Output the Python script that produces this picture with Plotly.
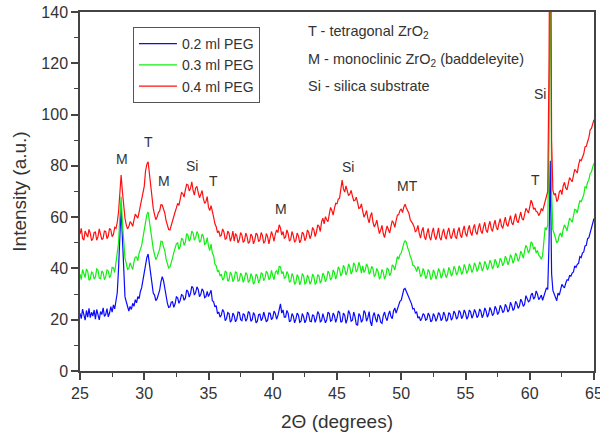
import numpy as np
import plotly.graph_objects as go

# scan angles (2-theta, degrees), 0.1 degree steps from 25 to 65
two_theta = np.round(np.arange(25.0, 65.0001, 0.1), 1)

peg_02 = [
    22.5, 20.4, 24.1, 21.2, 19.8, 23.6, 21.0, 24.4, 20.8, 22.9,
    21.4, 23.8, 20.2, 24.0, 21.8, 19.9, 23.2, 22.0, 24.6, 21.3,
    22.0, 24.3, 21.1, 22.6, 25.1, 23.0, 25.8, 24.2, 27.4, 30.5,
    40.0, 55.0, 64.0, 52.0, 36.0, 29.0, 27.0, 24.6, 23.4, 25.2,
    24.0, 26.4, 25.2, 27.8, 26.6, 29.0, 28.2, 31.0, 32.5, 35.4,
    38.5, 41.6, 44.2, 45.6, 42.0, 37.5, 33.0, 30.4, 29.6, 27.4,
    28.2, 30.0, 31.5, 34.8, 36.8, 35.2, 32.0, 28.6, 26.5, 24.8,
    25.0, 26.8, 27.0, 24.8, 26.2, 28.9, 28.5, 26.4, 27.6, 29.8,
    29.5, 27.6, 28.4, 31.6, 31.0, 28.8, 30.2, 33.0, 32.4, 29.6,
    30.6, 32.8, 31.8, 29.0, 29.9, 32.0, 31.2, 28.6, 29.0, 31.0,
    29.0, 30.2, 31.5, 27.4, 27.0, 25.0, 25.5, 22.4, 23.0, 21.0,
    21.8, 24.0, 23.0, 19.6, 20.5, 22.8, 22.4, 19.0, 19.8, 22.6,
    21.6, 19.2, 20.2, 23.0, 22.8, 20.0, 19.6, 22.4, 21.9, 19.4,
    20.4, 23.2, 22.6, 19.4, 20.0, 22.8, 21.8, 18.8, 19.4, 22.0,
    22.2, 19.6, 20.6, 23.0, 21.4, 19.2, 19.8, 22.6, 22.5, 20.0,
    20.8, 23.4, 22.4, 20.2, 21.6, 23.8, 26.2, 22.6, 23.8, 21.0,
    21.0, 23.6, 22.5, 19.2, 19.6, 22.4, 21.4, 18.8, 20.2, 22.6,
    21.8, 19.0, 19.4, 22.4, 21.2, 18.8, 20.0, 23.0, 22.0, 19.4,
    19.2, 22.0, 21.5, 19.0, 20.4, 23.2, 22.2, 19.2, 19.6, 22.4,
    21.0, 18.8, 20.0, 23.0, 22.4, 19.4, 19.8, 22.6, 21.6, 19.0,
    20.6, 23.4, 22.8, 19.0, 19.4, 22.6, 21.8, 18.6, 20.2, 23.6,
    22.4, 19.4, 19.8, 23.0, 21.2, 18.2, 17.8, 22.4, 21.6, 19.0,
    20.0, 23.6, 22.6, 19.4, 20.8, 23.2, 19.2, 17.6, 21.4, 22.8,
    20.4, 19.0, 22.2, 21.4, 19.0, 18.6, 21.6, 23.0, 20.8, 19.6,
    22.0, 23.4, 21.2, 20.4, 23.4, 24.6, 22.6, 24.2, 25.0, 27.2,
    27.6, 30.4, 31.8, 32.2, 31.0, 29.6, 28.4, 27.0, 26.2, 24.2,
    24.4, 22.6, 23.0, 20.6, 21.2, 19.6, 20.6, 22.4, 21.8, 19.8,
    20.2, 22.6, 21.6, 19.2, 19.8, 22.4, 21.4, 19.4, 20.6, 22.8,
    22.0, 19.6, 20.4, 23.0, 21.8, 19.4, 20.0, 22.8, 22.2, 19.8,
    20.8, 23.4, 22.4, 20.2, 21.0, 23.6, 22.8, 20.4, 21.4, 23.8,
    22.6, 20.2, 21.2, 23.8, 23.0, 20.6, 21.8, 24.0, 22.8, 20.8,
    21.6, 24.2, 23.2, 20.8, 22.0, 24.6, 23.4, 21.0, 22.2, 24.8,
    23.6, 21.6, 22.4, 25.2, 24.2, 22.0, 23.0, 25.6, 24.6, 22.8,
    23.4, 26.0, 25.0, 23.0, 24.0, 26.8, 25.6, 23.6, 24.4, 27.2,
    26.2, 24.4, 25.4, 28.0, 27.0, 25.2, 26.0, 29.4, 28.2, 27.0,
    27.4, 29.6, 30.4, 28.0, 28.8, 31.2, 30.0, 27.8, 28.6, 29.6,
    27.6, 29.0, 30.6, 32.4, 31.8, 50.0, 82.0, 38.0, 31.4, 30.0,
    28.0, 27.4, 30.4, 29.6, 31.6, 33.8, 33.0, 32.4, 34.2, 35.6,
    35.4, 37.2, 37.0, 38.2, 38.6, 41.0, 40.4, 41.6, 42.0, 44.6,
    44.2, 46.0, 46.4, 48.8, 49.0, 51.6, 52.0, 54.2, 55.4, 57.8,
    59.5,
]

peg_03 = [
    37.8, 35.6, 39.6, 38.0, 36.4, 39.8, 38.8, 35.4, 35.9, 38.6,
    38.2, 35.8, 36.6, 39.8, 39.4, 36.2, 36.0, 39.0, 38.4, 35.6,
    36.8, 39.4, 39.0, 36.4, 37.4, 40.4, 40.2, 38.4, 42.5, 45.0,
    50.0, 60.0, 68.0, 58.0, 49.0, 44.0, 42.0, 39.6, 40.0, 42.2,
    40.8, 39.6, 42.6, 44.4, 44.4, 43.0, 46.0, 47.6, 49.0, 52.0,
    55.0, 58.6, 61.0, 62.0, 58.0, 54.0, 49.5, 47.6, 45.5, 43.4,
    44.5, 46.4, 47.5, 50.6, 50.5, 48.4, 47.0, 43.6, 42.0, 40.2,
    40.6, 43.0, 44.0, 46.2, 47.6, 49.6, 50.0, 47.4, 48.6, 51.6,
    51.4, 49.0, 50.2, 53.6, 53.0, 50.6, 51.6, 54.6, 53.8, 51.0,
    52.0, 54.4, 53.4, 50.2, 50.8, 53.4, 52.6, 49.4, 49.8, 52.0,
    48.6, 47.0, 49.5, 46.0, 45.0, 41.6, 41.0, 38.8, 39.2, 37.0,
    37.8, 35.4, 36.2, 39.0, 38.4, 35.0, 35.6, 38.6, 37.6, 34.8,
    36.0, 38.8, 38.2, 35.0, 35.4, 38.2, 37.2, 34.6, 35.8, 38.4,
    37.6, 34.6, 35.2, 38.0, 36.8, 33.8, 34.8, 37.8, 37.0, 34.4,
    35.6, 38.4, 37.8, 35.2, 36.2, 39.0, 38.0, 35.6, 36.4, 39.2,
    37.2, 35.6, 38.4, 39.2, 37.6, 40.8, 40.6, 38.0, 38.8, 36.2,
    36.4, 38.8, 37.8, 34.6, 35.2, 38.0, 36.8, 33.8, 34.6, 37.6,
    36.6, 33.6, 35.0, 38.0, 37.2, 34.0, 34.4, 37.4, 36.2, 33.8,
    35.0, 37.8, 36.8, 33.8, 34.6, 37.6, 37.0, 34.2, 35.4, 38.2,
    37.2, 34.8, 36.0, 39.0, 38.0, 35.4, 36.4, 39.4, 38.4, 35.8,
    37.6, 40.6, 39.6, 37.0, 38.2, 41.2, 40.0, 37.4, 38.8, 41.8,
    40.4, 37.8, 39.0, 42.2, 41.2, 38.6, 39.6, 42.4, 40.8, 38.2,
    41.0, 38.4, 39.4, 41.8, 40.6, 37.8, 38.6, 40.8, 39.8, 36.8,
    37.6, 40.0, 38.8, 35.8, 36.8, 39.6, 38.4, 35.8, 37.2, 40.0,
    39.6, 37.2, 38.2, 41.4, 40.8, 39.4, 42.0, 44.6, 43.6, 45.4,
    46.0, 48.4, 49.8, 50.8, 50.2, 48.0, 46.8, 44.6, 43.6, 41.2,
    41.0, 40.2, 38.8, 40.8, 39.6, 36.8, 37.4, 40.0, 38.6, 36.0,
    37.0, 39.6, 38.4, 35.6, 36.6, 39.4, 38.2, 35.8, 37.4, 40.0,
    38.8, 36.2, 37.2, 40.0, 38.6, 36.4, 37.6, 40.4, 39.2, 37.0,
    38.0, 40.8, 39.8, 37.4, 38.4, 41.0, 40.0, 37.6, 38.8, 41.6,
    40.2, 38.0, 39.2, 41.8, 40.6, 38.4, 39.6, 42.2, 41.0, 38.8,
    40.0, 42.6, 41.4, 39.0, 40.2, 42.8, 41.6, 39.4, 40.6, 43.2,
    42.0, 39.8, 41.0, 43.6, 42.4, 40.2, 41.4, 44.0, 43.0, 41.0,
    42.2, 44.8, 43.6, 41.4, 42.8, 45.4, 44.2, 42.0, 43.4, 46.0,
    44.8, 42.8, 44.0, 46.8, 45.6, 44.0, 46.8, 49.0, 48.0, 46.0,
    47.2, 50.4, 49.8, 47.4, 48.4, 46.0, 47.0, 45.2, 44.6, 43.6,
    45.0, 52.0, 56.0, 55.0, 57.0, 90.0, 165.0, 70.0, 55.0, 53.6,
    52.0, 50.0, 50.6, 53.0, 53.8, 52.2, 55.2, 57.0, 56.0, 54.6,
    57.2, 59.6, 59.0, 58.0, 60.4, 63.0, 62.8, 61.6, 64.4, 66.4,
    66.0, 67.4, 68.6, 71.8, 71.4, 73.6, 74.6, 77.0, 77.6, 79.6,
    81.0,
]

peg_04 = [
    53.4, 55.6, 51.8, 51.0, 54.6, 53.0, 52.2, 55.2, 53.8, 50.8,
    51.6, 54.0, 54.2, 51.0, 52.4, 55.4, 53.6, 51.2, 51.8, 54.6,
    54.4, 51.6, 52.6, 55.6, 55.0, 52.4, 53.2, 56.0, 55.6, 58.0,
    62.0, 70.0, 76.4, 70.0, 64.0, 59.6, 57.0, 55.4, 56.3, 58.2,
    57.6, 56.4, 58.8, 61.2, 60.4, 59.6, 62.0, 64.4, 66.0, 69.0,
    72.0, 78.0, 80.6, 81.6, 77.0, 71.0, 66.0, 63.4, 61.0, 59.0,
    60.0, 61.8, 62.4, 64.8, 64.7, 63.0, 61.6, 58.6, 57.0, 55.2,
    55.0, 57.0, 58.4, 61.0, 62.0, 63.6, 65.4, 64.6, 67.6, 69.6,
    69.2, 67.8, 70.6, 72.8, 72.6, 70.2, 71.2, 73.8, 70.4, 68.6,
    71.4, 72.0, 69.6, 67.6, 68.8, 70.4, 67.2, 65.4, 66.0, 68.0,
    63.8, 62.6, 64.5, 61.4, 60.0, 57.4, 56.3, 54.0, 54.6, 52.6,
    53.0, 55.4, 54.2, 51.4, 51.8, 54.6, 53.6, 50.6, 52.0, 54.6,
    50.6, 53.6, 52.8, 50.0, 51.2, 54.0, 53.0, 50.2, 50.8, 53.8,
    52.4, 49.8, 50.4, 53.4, 52.6, 49.6, 51.0, 53.8, 53.2, 50.4,
    51.2, 54.0, 52.8, 49.8, 50.6, 53.6, 52.4, 49.6, 51.6, 54.4,
    52.8, 50.6, 53.4, 55.0, 54.0, 57.0, 55.8, 53.0, 54.4, 51.8,
    52.2, 55.0, 53.6, 50.6, 51.4, 54.4, 52.8, 50.2, 51.0, 53.8,
    52.6, 50.0, 51.2, 54.2, 53.4, 50.8, 52.0, 55.0, 54.0, 51.6,
    53.0, 56.0, 55.0, 52.4, 54.2, 57.0, 56.4, 54.4, 58.2, 59.6,
    57.4, 60.2, 59.0, 58.2, 61.2, 63.8, 62.6, 60.8, 63.4, 65.4,
    65.2, 67.0, 67.4, 70.6, 74.5, 71.0, 69.8, 72.2, 70.6, 68.4,
    69.0, 70.4, 68.2, 66.4, 66.6, 67.8, 65.8, 63.4, 63.6, 65.2,
    62.4, 60.0, 61.0, 62.6, 59.6, 57.8, 60.4, 61.8, 58.0, 56.2,
    57.2, 58.8, 56.0, 53.6, 55.0, 56.8, 53.6, 52.0, 54.6, 56.6,
    55.2, 53.8, 56.4, 58.6, 57.8, 56.0, 58.6, 60.8, 61.0, 62.6,
    63.2, 61.8, 64.0, 65.0, 63.6, 62.2, 61.4, 59.0, 58.4, 57.4,
    56.3, 54.2, 55.0, 56.8, 53.6, 51.8, 54.6, 56.0, 52.4, 51.2,
    53.8, 55.6, 52.2, 51.0, 54.0, 55.8, 52.6, 51.2, 53.4, 55.8,
    52.0, 51.0, 53.8, 55.4, 52.6, 51.4, 54.2, 55.8, 52.8, 51.6,
    53.7, 55.6, 52.4, 51.6, 54.4, 56.0, 53.0, 52.0, 54.8, 56.6,
    53.6, 52.4, 55.2, 56.8, 54.0, 52.8, 55.6, 57.2, 54.2, 53.2,
    55.8, 57.6, 54.6, 53.6, 56.2, 58.0, 55.0, 54.0, 56.6, 58.4,
    55.6, 54.4, 57.0, 58.8, 56.0, 55.0, 57.6, 59.4, 56.6, 55.6,
    58.0, 60.0, 57.2, 56.4, 58.6, 60.6, 57.8, 57.0, 59.4, 61.4,
    58.6, 57.8, 60.0, 62.0, 59.4, 58.8, 61.0, 63.4, 62.6, 61.6,
    64.0, 66.6, 65.4, 63.0, 63.6, 62.2, 62.0, 60.6, 61.5, 63.4,
    62.4, 64.4, 66.7, 67.6, 70.0, 120.0, 210.0, 90.0, 70.5, 68.6,
    69.3, 66.0, 67.0, 69.8, 70.6, 68.8, 72.2, 73.6, 71.4, 70.6,
    73.0, 75.4, 74.6, 73.8, 76.2, 78.6, 78.0, 77.2, 80.4, 82.4,
    82.0, 83.4, 84.6, 87.4, 87.6, 89.4, 91.0, 94.0, 94.6, 96.4,
    98.0,
]

series_names = ["0.2 ml PEG", "0.3 ml PEG", "0.4 ml PEG"]
series_colors = ["#0a0aff", "#12ee12", "#ff1010"]

# peak labels (phase markers)
label_text = ["M", "T", "M", "Si", "T", "M", "Si", "MT", "T", "Si"]
label_x = [28.3, 30.33, 31.53, 33.74, 35.41, 40.66, 45.88, 50.45, 60.43, 60.79]
label_y = [82.6, 89.5, 74.2, 80.0, 74.2, 63.0, 79.7, 72.1, 74.5, 108.1]

key_lines = [
    "T - tetragonal ZrO<sub>2</sub>",
    "M - monoclinic ZrO<sub>2</sub> (baddeleyite)",
    "Si - silica substrate",
]

FONT = "Liberation Sans, Arial, sans-serif"
TXT = "#333333"
AX = "#444444"

fig = go.Figure()
for name, col, vals in zip(series_names, series_colors, [peg_02, peg_03, peg_04]):
    fig.add_trace(go.Scatter(
        x=two_theta, y=vals, mode="lines", name=name,
        line=dict(color=col, width=1.2),
    ))

annotations = []
for t, x, y in zip(label_text, label_x, label_y):
    annotations.append(dict(
        x=x, y=y, xref="x", yref="y", text=t, showarrow=False,
        font=dict(family=FONT, size=14, color=TXT),
    ))

key_y = [0.944, 0.866, 0.794]
for t, yy in zip(key_lines, key_y):
    annotations.append(dict(
        x=0.44, y=yy, xref="paper", yref="paper", text=t, showarrow=False,
        xanchor="left", yanchor="middle",
        font=dict(family=FONT, size=14.5, color=TXT),
    ))

fig.update_layout(
    width=600, height=435,
    margin=dict(l=80, r=6, t=12, b=64),
    paper_bgcolor="white", plot_bgcolor="white",
    font=dict(family=FONT, size=16, color=TXT),
    showlegend=True,
    legend=dict(
        x=0.103, y=0.958, xanchor="left", yanchor="top",
        bordercolor="#555555", borderwidth=1, bgcolor="white",
        font=dict(family=FONT, size=14, color=TXT),
        itemwidth=38, tracegroupgap=0,
    ),
    annotations=annotations,
)

fig.update_xaxes(
    range=[25, 65], dtick=5, tick0=25, automargin=False,
    ticklabeloverflow="allow",
    showline=True, linecolor=AX, linewidth=1.5, mirror=True,
    ticks="outside", ticklen=7, tickwidth=1.5, tickcolor=AX,
    minor=dict(ticks="outside", ticklen=4, tickwidth=1.2, tickcolor=AX, dtick=2.5),
    showgrid=False, zeroline=False,
    tickfont=dict(family=FONT, size=16, color=TXT),
    title=dict(text="2Θ (degrees)", font=dict(family=FONT, size=19, color=TXT), standoff=14),
)
fig.update_yaxes(
    range=[0, 140], dtick=20, tick0=0, automargin=False,
    ticklabeloverflow="allow",
    showline=True, linecolor=AX, linewidth=1.5, mirror=True,
    ticks="outside", ticklen=7, tickwidth=1.5, tickcolor=AX,
    minor=dict(ticks="outside", ticklen=4, tickwidth=1.2, tickcolor=AX, dtick=10),
    showgrid=False, zeroline=False,
    tickfont=dict(family=FONT, size=16, color=TXT),
    title=dict(text="Intensity (a.u.)", font=dict(family=FONT, size=19, color=TXT), standoff=10),
)

fig.write_html(
    "out.html",
    config={"displayModeBar": False},
    post_script="document.body.style.margin='0px';",
)
